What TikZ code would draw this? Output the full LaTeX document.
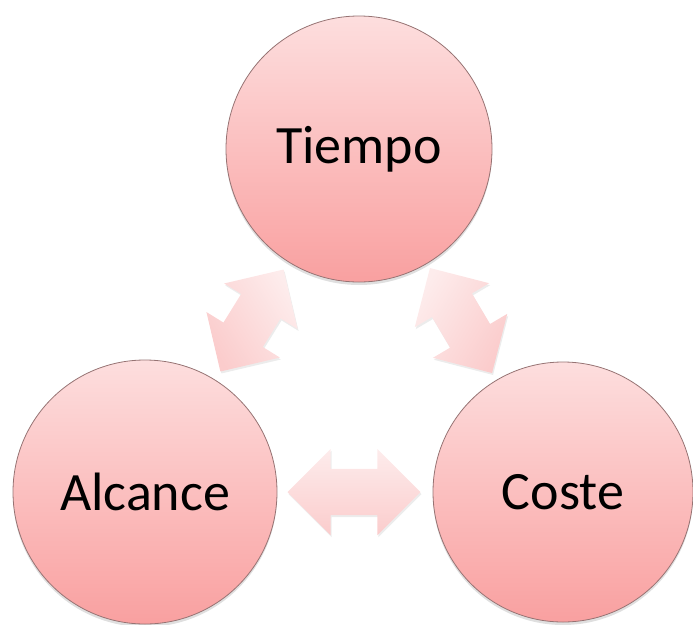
\documentclass[tikz,border=0pt]{standalone}
\usepackage{fontspec}
\setmainfont{Carlito}
\usetikzlibrary{calc,shapes.arrows,shadows}

\definecolor{balltop}{RGB}{253,222,222}
\definecolor{ballbot}{RGB}{249,160,160}
\definecolor{ballrim}{RGB}{150,115,115}
\definecolor{arrtop}{RGB}{253,236,236}
\definecolor{arrbot}{RGB}{251,204,204}

\tikzset{
  ball/.style={circle,draw=ballrim,line width=0.8pt,inner sep=0pt,
    minimum size=#1,top color=balltop,bottom color=ballbot,
    font=\fontsize{54}{60}\selectfont,
    drop shadow={shadow xshift=0pt,shadow yshift=-3pt,opacity=0.25,fill=gray}},
  dblarrow/.style={double arrow,double arrow head extend=20pt,
    double arrow tip angle=90,inner xsep=0pt,inner ysep=23pt,
    minimum height=#1,top color=arrtop,bottom color=arrbot,
    drop shadow={shadow xshift=1pt,shadow yshift=-2pt,opacity=0.15,fill=gray}}
}

\begin{document}
\begin{tikzpicture}[x=1pt,y=1pt]
  \useasboundingbox (0,0) rectangle (693,-624);
  % the three corners
  \node[ball=266pt] (tie) at (359,-149) {Tiempo};
  \node[ball=264pt] (alc) at (145,-492) {Alcance};
  \node[ball=260pt] (cos) at (563,-492) {Coste};
  % two-way arrows between them
  \node[dblarrow=120pt,rotate=58.2,shading angle=-58.2] (at1) at ($(alc)!0.5!(tie)$) {};
  \node[dblarrow=122pt,rotate=-59.4,shading angle=59.4] (at2) at ($(tie)!0.5!(cos)$) {};
  \node[dblarrow=133pt] (at3) at ($(alc)!0.5!(cos)$) {};
\end{tikzpicture}
\end{document}
